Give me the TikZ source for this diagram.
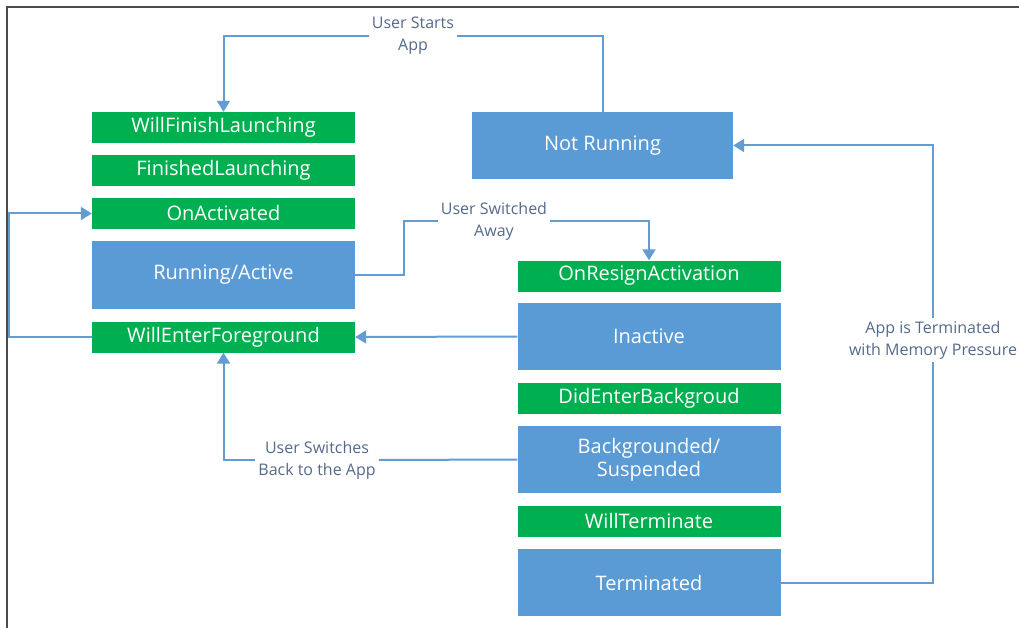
\documentclass[tikz,border=0pt]{standalone}
\usepackage{fontspec}
\setmainfont{Open Sans}
\usetikzlibrary{arrows.meta}
\definecolor{stateblue}{RGB}{91,155,213}
\definecolor{eventgreen}{RGB}{0,176,80}
\definecolor{linkblue}{RGB}{100,155,210}
\definecolor{labelgrey}{RGB}{84,106,138}

\begin{document}
\begin{tikzpicture}[x=1pt,y=-1pt,>={Triangle[length=11pt,width=13pt]},
  font=\fontsize{20}{23}\selectfont,
  state/.style={fill=stateblue, text=white, inner sep=0pt, align=center,
    minimum width=263pt, minimum height=67pt},
  event/.style={fill=eventgreen, text=white, inner sep=0pt,
    minimum width=263pt, minimum height=31pt},
  flow/.style={draw=linkblue, line width=2pt},
  lbl/.style={text=labelgrey, align=center, inner sep=3pt,
    font=\fontsize{16}{22}\selectfont}]
  \def\xl{223.5}
  \def\xr{649}

  % Frame
  \useasboundingbox (0,0) rectangle (1019,628);
  \draw[black!70, line width=1.6pt] (7,628) -- (7,7) -- (1019,7);

  % Launch column
  \node[event] (wfl) at (\xl,127.5) {WillFinishLaunching};
  \node[event] (fl)  at (\xl,170.5) {FinishedLaunching};
  \node[event] (oa)  at (\xl,213.5) {OnActivated};
  \node[state] (ra)  at (\xl,275)   {Running/Active};
  \node[event] (wef) at (\xl,337)   {WillEnterForeground};

  \node[state, minimum width=261pt] (nr) at (602.5,145.5) {Not Running};

  % Background column
  \node[event] (ora)  at (\xr,276)   {OnResignActivation};
  \node[state] (ina)  at (\xr,336.5) {Inactive};
  \node[event] (deb)  at (\xr,398)   {DidEnterBackgroud};
  \node[state] (bs)   at (\xr,459.5) {Backgrounded/\\Suspended};
  \node[event] (wt)   at (\xr,521)   {WillTerminate};
  \node[state] (term) at (\xr,582.5) {Terminated};

  % Labels
  \node[lbl] (lstart) at (413,36)  {User Starts\\App};
  \node[lbl] (lsw)    at (494,221) {User Switched\\Away};
  \node[lbl] (lback)  at (317,460) {User Switches\\Back to the App};
  \node[lbl] (lmem)   at (933,340) {App is Terminated\\with Memory Pressure};

  % Transitions
  \draw[flow] (nr.north) |- (lstart.east);
  \draw[flow, ->] (lstart.west) -| (wfl.north);

  \draw[flow] (ra.east) -- ++(49,0) |- (lsw.west);
  \draw[flow, ->] (lsw.east) -| (ora.north);

  \draw[flow, ->] (wef.west) -- ++(-83,0) |- (oa.west);
  \draw[flow, ->] (ina.west) -- (wef.east);

  \draw[flow] (bs.west) -- (lback.east);
  \draw[flow, ->] (lback.west) -| (wef.south);

  \draw[flow] (term.east) -| (lmem.south);
  \draw[flow, ->] (lmem.north) |- (nr.east);
\end{tikzpicture}
\end{document}
